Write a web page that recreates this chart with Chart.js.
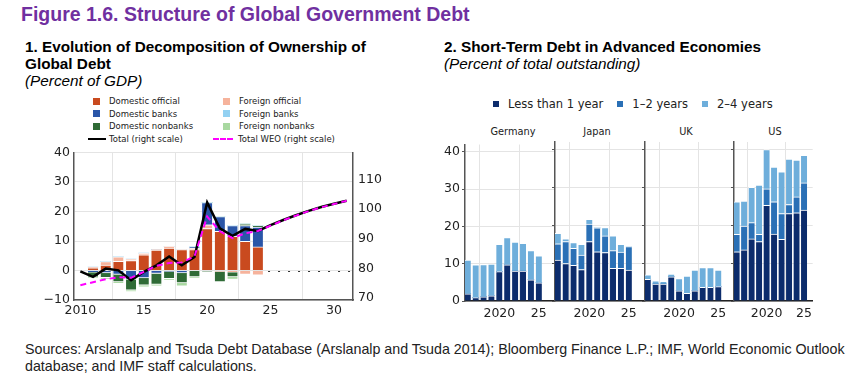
<!DOCTYPE html>
<html>
<head>
<meta charset="utf-8">
<script src="https://cdn.jsdelivr.net/npm/chart.js@4.4.1/dist/chart.umd.min.js"></script>
<style>
  body{ margin:0; width:860px; height:374px; background:#fff; position:relative; overflow:hidden;
        font-family:"Liberation Sans", Arial, sans-serif; color:#000; }
  .abs{ position:absolute; }
  #title{ left:21px; top:4px; font-weight:bold; font-size:19.5px; line-height:20px; color:#7030a0; white-space:nowrap; }
  .sub{ font-size:15.3px; line-height:17px; white-space:nowrap; }
  .sub b{ font-weight:bold; }
  .sub i{ font-style:italic; }
  .leg{ font-family:"DejaVu Sans", Verdana, sans-serif; color:#222; white-space:nowrap; }
  .facet{ font-family:"DejaVu Sans", Verdana, sans-serif; font-size:9.8px; color:#222; transform:translateX(-50%); }
  #sources{ left:25px; top:340px; font-family:"Liberation Sans", Arial, sans-serif;
            font-size:15px; line-height:17px; color:#222; white-space:nowrap;
            transform:scaleX(0.95); transform-origin:0 0; }
  canvas{ position:absolute; }
</style>
</head>
<body>
<div id="title" class="abs">Figure 1.6. Structure of Global Government Debt</div>
<div class="abs sub" style="left:25px;top:38px"><b>1. Evolution of Decomposition of Ownership of<br>Global Debt</b><br><i>(Percent of GDP)</i></div>
<div class="abs sub" style="left:444px;top:38px"><b>2. Short-Term Debt in Advanced Economies</b><br><i>(Percent of total outstanding)</i></div>
<div id="legL" class="abs leg" style="left:0;top:0"></div>
<div id="legR" class="abs leg" style="left:493px;top:97px;display:flex;gap:14px;font-size:11.5px;line-height:14px"></div>
<div id="facetTitles"></div>

<canvas id="left" width="400" height="190" style="left:0;top:140px"></canvas>
<canvas id="fGermany" width="135" height="195" style="left:420px;top:135px"></canvas>
<canvas id="fJapan" width="94" height="195" style="left:551px;top:135px"></canvas>
<canvas id="fUK" width="93" height="195" style="left:641px;top:135px"></canvas>
<canvas id="fUS" width="87" height="195" style="left:730px;top:135px"></canvas>

<div id="sources" class="abs">Sources: Arslanalp and Tsuda Debt Database (Arslanalp and Tsuda 2014); Bloomberg Finance L.P.; IMF, World Economic Outlook<br>database; and IMF staff calculations.</div>

<script>
/********************
 * Panel 1 data (percent of GDP, right scale for totals)
 ********************/
const barYears = [2011, 2012, 2013, 2014, 2015, 2016, 2017, 2018, 2019, 2020, 2021, 2022, 2023, 2024];
const domOfficial = [0.9, 1.8, 3.1, 3.4, 5.3, 6.9, 7.6, 7.1, 7.1, 14.2, 13.3, 11.6, 9.9, 8.0];
const forOfficial = [0.3, 1.2, 1.5, 0.5, 0.6, 0.2, 0.6, 0.1, 0.4, 1.3, -0.3, -0.6, -1.3, -1.6];
const domBanks    = [-0.6, -0.8, -1.3, -3.0, -2.5, -1.0, -0.3, -0.8, 0.5, 7.5, 5.0, 3.6, 5.3, 6.7];
const domNonbanks = [-1.7, -1.6, -2.6, -3.7, -2.5, -3.7, -2.5, -3.4, -2.2, -0.3, -3.6, -1.6, 0.5, 0.5];
const forBanks    = [0, 0, 0, 0, 0, 0, 0, 0, 0, 0, 0, 0, 0, 0];
const forNonbanks = [-0.3, -0.5, -0.5, -0.4, -0.6, -0.6, -0.5, -1.1, -0.3, 0, 0, -0.8, 0, 0];

const lineYears = [2010, 2011, 2012, 2013, 2014, 2015, 2016, 2017, 2018, 2019, 2020,
                   2021, 2022, 2023, 2024, 2025, 2026, 2027, 2028, 2029, 2030, 2031];
const totalRight = [79.0, 77.1, 79.9, 79.3, 76.0, 78.8, 81.0, 84.0, 81.0, 83.8, 102.2,
                    93.5, 91.0, 93.3, 92.6, 94.6, 96.3, 97.9, 99.4, 100.7, 101.8, 102.8];
const totalWEO   = [74.3, 75.3, 76.3, 77.0, 76.8, 78.8, 80.8, 81.8, 82.0, 84.0, 97.5,
                    92.5, 90.2, 91.8, 92.6, 94.4, 96.2, 97.8, 99.3, 100.6, 101.7, 102.8];

const leftTicks  = [-10, 0, 10, 20, 30, 40];
const rightTicks = [70, 80, 90, 100, 110];
const xTicksLeft = [2010, 2015, 2020, 2025, 2030];

/********************
 * Panel 2 data (percent of total outstanding)
 ********************/
const stYears = [2016, 2017, 2018, 2019, 2020, 2021, 2022, 2023, 2024, 2025];
const countries = ["Germany", "Japan", "UK", "US"];
const lessThan1 = {
  Germany: [1.9, 0.9, 1.1, 1.4, 7.9, 9.7, 8.0, 8.0, 5.7, 4.9],
  Japan:   [10.8, 9.9, 9.4, 8.3, 15.7, 13.0, 12.8, 8.6, 8.6, 8.2],
  UK:      [5.7, 4.5, 4.5, 6.4, 2.7, 2.0, 2.7, 3.6, 3.6, 3.8],
  US:      [13.0, 13.5, 16.4, 15.7, 25.3, 17.7, 16.3, 23.1, 23.3, 24.0]
};
const oneToTwo = {
  Germany: [0, 0, 0, 0, 0, 0, 0, 0, 0, 0],
  Japan:   [4.3, 5.8, 4.5, 3.8, 4.6, 6.3, 4.4, 4.7, 4.3, 6.2],
  UK:      [0, 0, 0, 0, 0, 0, 0, 0, 0, 0],
  US:      [4.6, 6.3, 4.3, 1.9, 4.3, 8.5, 6.8, 2.4, 4.2, 7.2]
};
const twoToFour = {
  Germany: [9.1, 8.8, 8.7, 8.5, 7.3, 7.3, 7.8, 7.5, 7.8, 7.2],
  Japan:   [2.8, 0.7, 1.5, 2.9, 1.3, 0, 2.2, 3.9, 2.1, 0.1],
  UK:      [1.2, 0.8, 0.7, 0.7, 3.2, 4.6, 5.5, 5.2, 5.2, 4.4],
  US:      [8.6, 6.6, 9.3, 13.0, 10.4, 9.2, 11.0, 12.0, 9.7, 7.3]
};
const stTicks = [0, 10, 20, 30, 40];
const stXTicks = [2020, 2025];

/********************
 * Styling
 ********************/
const TICK_FONT = { family: "DejaVu Sans, Verdana, sans-serif", size: 12.5 };
const GRID = "#e4e4e4";
const AXIS = "#555";

const leftSeries = [
  { label: "Domestic official",  data: domOfficial, color: "#c94a1f" },
  { label: "Foreign official",   data: forOfficial, color: "#f6b39c" },
  { label: "Domestic banks",     data: domBanks,    color: "#2a56a8" },
  { label: "Domestic nonbanks",  data: domNonbanks, color: "#2f6b36" },
  { label: "Foreign banks",      data: forBanks,    color: "#93d1f2" },
  { label: "Foreign nonbanks",   data: forNonbanks, color: "#a8d8a0" }
];
const stSeries = [
  { label: "Less than 1 year", src: lessThan1, color: "#0c2c6c" },
  { label: "1\u20132 years",   src: oneToTwo,  color: "#2a70b6" },
  { label: "2\u20134 years",   src: twoToFour, color: "#6eaedb" }
];

function pts(xs, ys){ return xs.map((x, i) => ({ x, y: ys[i] })); }
function fixedTicks(list){ return scale => { scale.ticks = list.map(v => ({ value: v })); }; }
function minus(v){ return String(v).replace("-", "\u2212"); }

/********************
 * Panel 1 chart
 ********************/
const zeroLine = {
  id: "zeroLine",
  beforeDatasetsDraw(chart){
    const { ctx, scales, chartArea } = chart;
    const py = Math.round(scales.y.getPixelForValue(0)) + 0.5;
    ctx.save();
    ctx.strokeStyle = "#333";
    ctx.lineWidth = 1;
    ctx.setLineDash([2, 8]);
    ctx.beginPath();
    ctx.moveTo(scales.x.getPixelForValue(2024.8), py);
    ctx.lineTo(chartArea.right, py);
    ctx.stroke();
    ctx.restore();
  }
};

const leftDatasets = [
  { type: "line", label: "Total WEO (right scale)", data: pts(lineYears, totalWEO), yAxisID: "y2",
    borderColor: "#ff00ff", borderWidth: 2, borderDash: [6, 4], pointRadius: 0, order: 0 },
  { type: "line", label: "Total (right scale)", data: pts(lineYears, totalRight), yAxisID: "y2",
    borderColor: "#000", borderWidth: 2.5, pointRadius: 0, order: 1 }
].concat(leftSeries.map(s => ({
  type: "bar", label: s.label, data: pts(barYears, s.data), yAxisID: "y",
  backgroundColor: s.color, borderColor: "#fff", borderWidth: { top: 1, bottom: 1, left: 0, right: 0 },
  barThickness: 10, order: 2
})));

new Chart(document.getElementById("left"), {
  type: "bar",
  data: { datasets: leftDatasets },
  plugins: [zeroLine],
  options: {
    responsive: false, animation: false, devicePixelRatio: 1,
    layout: { padding: { top: 12, left: 0, right: 0, bottom: 0 } },
    plugins: { legend: { display: false }, tooltip: { enabled: false } },
    scales: {
      x: {
        type: "linear", min: 2009.5, max: 2031.5, stacked: true, offset: false,
        afterBuildTicks: fixedTicks(xTicksLeft),
        afterFit: s => { s.height = 30; },
        grid: { color: GRID, drawTicks: false },
        border: { color: AXIS, width: 1.5 },
        ticks: { font: TICK_FONT, color: "#222", padding: 3, maxRotation: 0,
                 callback: v => v === 2010 ? "2010" : String(v).slice(2) }
      },
      y: {
        position: "left", min: -10, max: 40, stacked: true,
        afterBuildTicks: fixedTicks(leftTicks),
        afterFit: s => { s.width = 74; },
        grid: { color: GRID, drawTicks: false },
        border: { color: AXIS, width: 1.5 },
        ticks: { font: TICK_FONT, color: "#222", padding: 4, callback: minus }
      },
      y2: {
        position: "right", min: 69.3, max: 119.1,
        afterBuildTicks: fixedTicks(rightTicks),
        afterFit: s => { s.width = 400 - 353; },
        grid: { display: false, drawTicks: false },
        border: { color: AXIS, width: 1.5 },
        ticks: { font: TICK_FONT, color: "#222", padding: 5 }
      }
    }
  }
});

// legend for panel 1 (two columns)
const legL = document.getElementById("legL");
const legCols = [
  ["Domestic official", "Domestic banks", "Domestic nonbanks", "Total (right scale)"],
  ["Foreign official", "Foreign banks", "Foreign nonbanks", "Total WEO (right scale)"]
];
legCols.forEach((col, c) => {
  col.forEach((name, r) => {
    const ds = leftDatasets.find(d => d.label === name);
    const item = document.createElement("div");
    item.className = "abs";
    item.style.cssText = `left:${c ? 212 : 87}px;top:${95 + r * 12.5}px;font-size:8.5px;line-height:12px;display:flex;align-items:center`;
    let icon;
    if(ds.type === "bar"){
      icon = `<span style="display:inline-block;width:7px;height:7px;background:${ds.backgroundColor};margin-left:${c ? 11 : 6}px;margin-right:9px"></span>`;
    }else if(ds.borderDash){
      icon = `<span style="display:inline-block;width:20px;border-top:2px dashed ${ds.borderColor};margin-left:1px;margin-right:5px"></span>`;
    }else{
      icon = `<span style="display:inline-block;width:18px;border-top:2.5px solid ${ds.borderColor};margin-left:1px;margin-right:3px"></span>`;
    }
    item.innerHTML = icon + name;
    legL.appendChild(item);
  });
});

/********************
 * Panel 2 facets
 ********************/
function facetChart(country, first, yWidth, xMax){
  new Chart(document.getElementById("f" + country), {
    type: "bar",
    data: {
      datasets: stSeries.map(s => ({
        label: s.label, data: pts(stYears, s.src[country]),
        backgroundColor: s.color, borderColor: "#fff",
        borderWidth: { top: 1, bottom: 0, left: 0, right: 0 }, barThickness: 6
      }))
    },
    options: {
      responsive: false, animation: false, devicePixelRatio: 1,
      layout: { padding: { top: 7, left: 0, right: 0, bottom: 0 } },
      plugins: { legend: { display: false }, tooltip: { enabled: false } },
      scales: {
        x: {
          type: "linear", min: 2015.65, max: xMax, stacked: true, offset: false,
          afterBuildTicks: fixedTicks(stXTicks),
          afterFit: s => { s.height = 29; },
          grid: { color: GRID, drawTicks: false },
          border: { color: "#222", width: 1.5 },
          ticks: { font: TICK_FONT, color: "#222", padding: 5, maxRotation: 0,
                   callback: v => v === 2020 ? "2020" : String(v).slice(2) }
        },
        y: {
          min: 0, max: 42, stacked: true,
          afterBuildTicks: fixedTicks(stTicks),
          afterFit: s => { s.width = yWidth; },
          grid: { color: GRID, drawTicks: true, tickLength: 3, tickColor: AXIS },
          border: { color: AXIS, width: 1.5 },
          ticks: { display: first, font: TICK_FONT, color: "#222", padding: 2 }
        }
      }
    }
  });
}

facetChart("Germany", true, 45, 2027.05);
facetChart("Japan", false, 4, 2027.05);
facetChart("UK", false, 4, 2027.0);
facetChart("US", false, 4, 2026.15);

const facetCenters = { Germany: 513, Japan: 597, UK: 686, US: 775 };
const facetTitles = document.getElementById("facetTitles");
countries.forEach(c => {
  const d = document.createElement("div");
  d.className = "abs facet";
  d.style.cssText = `left:${facetCenters[c]}px;top:126px`;
  d.textContent = c;
  facetTitles.appendChild(d);
});

const legR = document.getElementById("legR");
stSeries.forEach(s => {
  const it = document.createElement("div");
  it.style.cssText = "display:flex;align-items:center";
  it.innerHTML = `<span style="display:inline-block;width:6px;height:6px;background:${s.color};margin-right:9px"></span>${s.label}`;
  legR.appendChild(it);
});
</script>
</body>
</html>
